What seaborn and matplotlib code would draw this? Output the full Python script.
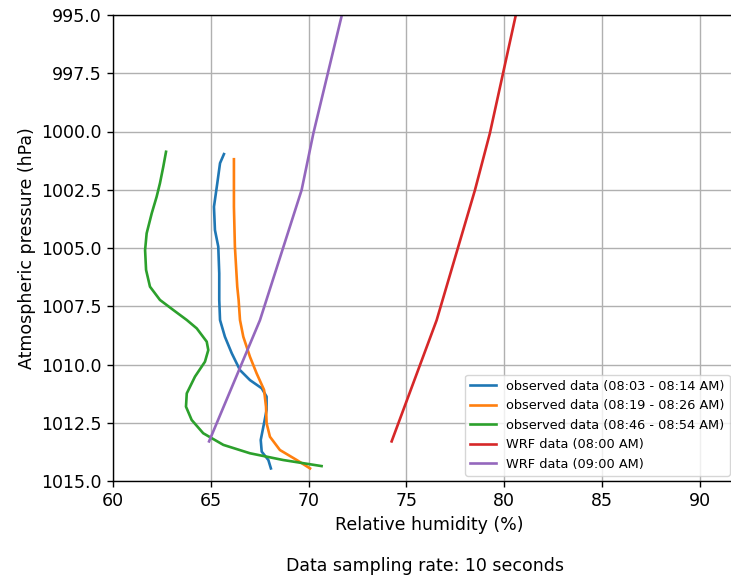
import matplotlib
matplotlib.use("Agg")
import matplotlib.pyplot as plt
import seaborn as sns
from matplotlib.ticker import FormatStrFormatter, MultipleLocator

# ---- data ----
obs1_rh = [65.67, 65.47, 65.33, 65.16, 65.21, 65.38, 65.43, 65.43, 65.47, 65.72, 66.07, 66.49,
           67.00, 67.60, 67.85, 67.85, 67.72, 67.55, 67.60, 67.94, 68.07]
obs1_p = [1000.97, 1001.36, 1002.22, 1003.23, 1004.23, 1004.94, 1006.09, 1007.23, 1008.09, 1008.81,
          1009.52, 1010.24, 1010.67, 1011.02, 1011.38, 1011.95, 1012.52, 1013.24, 1013.74, 1014.10, 1014.46]

obs2_rh = [66.18, 66.18, 66.23, 66.35, 66.42, 66.49, 66.66, 67.00, 67.34, 67.72, 67.82, 67.85,
           68.02, 68.53, 69.39, 70.07]
obs2_p = [1001.19, 1003.23, 1004.94, 1006.66, 1007.23, 1008.09, 1008.81, 1009.67, 1010.38, 1011.09,
          1011.81, 1012.52, 1013.10, 1013.67, 1014.10, 1014.46]

obs3_rh = [62.71, 62.57, 62.40, 62.23, 61.98, 61.72, 61.64, 61.69, 61.89, 62.40, 63.08, 63.77,
           64.28, 64.79, 64.87, 64.70, 64.19, 63.77, 63.73, 64.02, 64.61, 65.64, 67.00, 68.70, 70.66]
obs3_p = [1000.87, 1001.51, 1002.22, 1002.80, 1003.51, 1004.37, 1005.09, 1005.94, 1006.66, 1007.23,
          1007.66, 1008.09, 1008.45, 1009.02, 1009.38, 1009.88, 1010.52, 1011.24, 1011.81, 1012.38,
          1012.95, 1013.45, 1013.81, 1014.10, 1014.36]

wrf08_rh = [81.11, 79.26, 78.50, 76.54, 74.24]
wrf08_p = [993.0, 1000.08, 1002.51, 1008.10, 1013.30]

wrf09_rh = [72.27, 70.24, 69.64, 67.51, 64.91]
wrf09_p = [993.0, 1000.08, 1002.51, 1008.10, 1013.30]

labels = ["observed data (08:03 - 08:14 AM)",
          "observed data (08:19 - 08:26 AM)",
          "observed data (08:46 - 08:54 AM)",
          "WRF data (08:00 AM)",
          "WRF data (09:00 AM)"]

colors = ["#1f77b4", "#ff7f0e", "#2ca02c", "#d62728", "#9467bd"]

fig = plt.figure(figsize=(7.31, 5.79), dpi=100)
ax = fig.add_axes([113 / 731, 98 / 579, 632 / 731, 466 / 579])

series = [(obs1_rh, obs1_p), (obs2_rh, obs2_p), (obs3_rh, obs3_p),
          (wrf08_rh, wrf08_p), (wrf09_rh, wrf09_p)]
for (x, y), lab, c in zip(series, labels, colors):
    sns.lineplot(x=x, y=y, sort=False, estimator=None, ax=ax, color=c,
                 label=lab, linewidth=1.9)

ax.set_xlim(60, 92.3)
ax.set_ylim(1015, 995)
ax.xaxis.set_major_locator(MultipleLocator(5))
ax.yaxis.set_major_locator(MultipleLocator(2.5))
ax.yaxis.set_major_formatter(FormatStrFormatter("%.1f"))
ax.grid(True, color="#b0b0b0", linewidth=1.0)
ax.set_axisbelow(True)
ax.tick_params(labelsize=12.5, length=4.4, width=1.0)
for s in ax.spines.values():
    s.set_linewidth(1.0)
ax.set_xlabel("Relative humidity (%)", fontsize=12.5)
ax.set_ylabel("Atmospheric pressure (hPa)", fontsize=12.5)

ax.legend(loc="lower right", bbox_to_anchor=(730 / 731, 103 / 579),
          bbox_transform=fig.transFigure, fontsize=9.3, framealpha=0.8,
          handlelength=2.0, borderaxespad=0)

fig.text(425 / 731, 13 / 579, "Data sampling rate: 10 seconds",
         ha="center", va="center", fontsize=12.5)

fig.savefig("out.png", dpi=100)
